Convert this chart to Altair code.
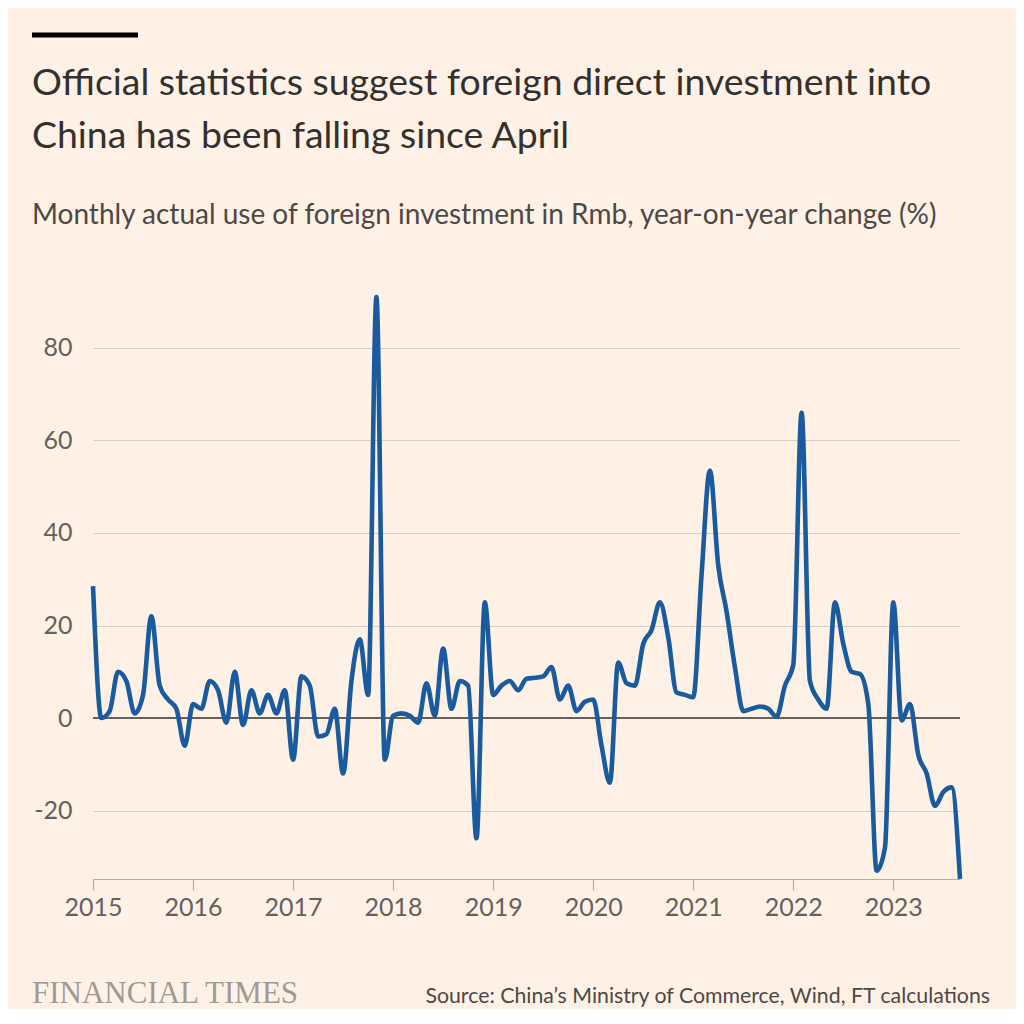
import altair as alt
import pandas as pd

# ---- data (monthly, Jan 2015 .. Sep 2023), year-on-year change %
START_YEAR = 2015
v2015 = [28.5, 0, 1.5, 10, 8, 1, 5, 22, 7, 4, 2, -6]
v2016 = [3, 2, 8, 6, -1, 10, -1.5, 6, 1, 5, 1, 6]
v2017 = [-9, 9, 7, -4, -3.5, 2, -12, 8, 17, 5, 91, -9]
v2018 = [0.5, 1, 0.5, -1, 7.5, 0.5, 15, 2, 8, 7, -26, 25]
v2019 = [5, 7, 8, 6, 8.5, 8.7, 9, 11, 4, 7, 1.5, 3.5]
v2020 = [4, -6, -14, 12, 7.5, 7, 16, 19, 25, 17.5, 5.5, 5]
v2021 = [4.5, 31, 53.5, 33, 23, 11, 1.5, 2, 2.5, 2, 0.3, 7]
v2022 = [11.5, 66, 8, 4, 2, 25, 16, 10, 9.5, 3, -33, -28]
v2023 = [25, -0.5, 3, -8, -12, -19, -16, -15, -34.8]

values = v2015 + v2016 + v2017 + v2018 + v2019 + v2020 + v2021 + v2022 + v2023
years = [START_YEAR + i / 12 for i in range(len(values))]

year_ticks = list(range(2015, 2024))
y_ticks = [-20, 0, 20, 40, 60, 80]
y_domain = [-34.8, 90.8]
x_domain = [2015, years[-1]]

TITLE1 = "Official statistics suggest foreign direct investment into"
TITLE2 = "China has been falling since April"
SUBTITLE = "Monthly actual use of foreign investment in Rmb, year-on-year change (%)"
SOURCE = "Source: China\u2019s Ministry of Commerce, Wind, FT calculations"
BRAND = "FINANCIAL TIMES"

df = pd.DataFrame({"year": years, "value": values})

W, H = 867, 581
FONT = "Lato"

x = alt.X("year:Q", scale=alt.Scale(domain=x_domain, nice=False, zero=False),
          axis=alt.Axis(values=year_ticks, format="d", title=None, grid=False,
                        domain=True, domainColor="#b5aca4", domainWidth=1.2,
                        ticks=True, tickColor="#b5aca4", tickSize=11, tickWidth=1.2,
                        labelPadding=5, labelFont=FONT, labelFontSize=25,
                        labelFlush=False, labelOverlap=False,
                        labelColor="#66605c"))
y = alt.Y("value:Q", scale=alt.Scale(domain=y_domain, nice=False, zero=False),
          axis=alt.Axis(values=y_ticks, title=None, grid=True, gridColor="#d9cec4",
                        gridWidth=1, domain=False, ticks=False, labelPadding=21,
                        labelExpr="'' + datum.value",
                        labelFont=FONT, labelFontSize=25, labelColor="#66605c"))

base = alt.Chart(df)
line = base.mark_line(color="#1a5a9e", strokeWidth=4.6, interpolate="monotone").encode(x=x, y=y)

zero = alt.Chart(pd.DataFrame({"z": [0]})).mark_rule(color="#66605c", strokeWidth=2).encode(
    y=alt.Y("z:Q", scale=alt.Scale(domain=y_domain, nice=False, zero=False)))


def text_layer(txt, xpos, ypos, size, color, font=FONT, align="left", weight="normal"):
    return alt.Chart(pd.DataFrame({"t": [txt]})).mark_text(
        align=align, baseline="alphabetic", font=font, fontSize=size, color=color,
        fontWeight=weight).encode(text="t:N", x=alt.value(xpos), y=alt.value(ypos))


bar = alt.Chart(pd.DataFrame({"b": [0]})).mark_rule(color="#000000", strokeWidth=5).encode(
    x=alt.value(-61), x2=alt.value(45), y=alt.value(-263))

t1 = text_layer(TITLE1, -61, -203, 37.4, "#33302e")
t2 = text_layer(TITLE2, -61, -150, 37.4, "#33302e")
st = text_layer(SUBTITLE, -61, -74, 28, "#4d4845")
src = text_layer(SOURCE, 897, 705, 21.3, "#4d4845", align="right")
brand = text_layer(BRAND, -61, 705, 31, "#a09a95", font="Liberation Serif")

chart = alt.layer(zero, line, bar, t1, t2, st, src, brand).properties(
    width=W, height=H,
    autosize=alt.AutoSizeParams(type="none"),
    padding={"left": 85, "top": 290, "right": 56, "bottom": 130},
    background="#fff1e5",
).configure_view(stroke=None)

chart.save("out.html", embed_options={"renderer": "svg", "actions": False})
